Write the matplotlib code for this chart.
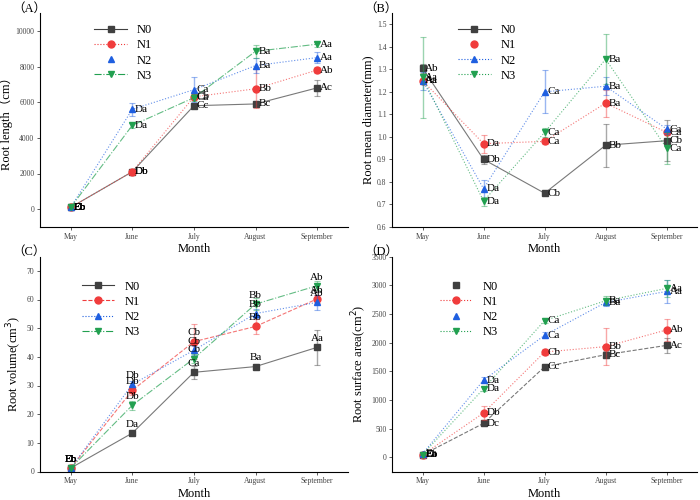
import matplotlib
matplotlib.use('Agg')
import matplotlib.pyplot as plt
from matplotlib.lines import Line2D

plt.rcParams['font.family'] = ['Liberation Serif', 'Noto Sans CJK SC', 'DejaVu Sans']

months = ['May', 'June', 'July', 'August', 'September']
series = ['N0', 'N1', 'N2', 'N3']

# (A) root length (cm)
len_vals = {
    'N0': [100, 2100, 5800, 5900, 6800],
    'N1': [100, 2100, 6300, 6750, 7800],
    'N2': [100, 5600, 6700, 8050, 8500],
    'N3': [100, 4700, 6250, 8850, 9250],
}
len_err = {
    'N0': [50, 100, 150, 150, 450],
    'N1': [50, 100, 150, 1100, 150],
    'N2': [50, 350, 700, 400, 300],
    'N3': [50, 150, 200, 350, 150],
}
len_lab = {
    'N0': ['Eb', 'Db', 'Cc', 'Bc', 'Ac'],
    'N1': ['Eb', 'Db', 'Cb', 'Bb', 'Ab'],
    'N2': ['Eb', 'Da', 'Ca', 'Ba', 'Aa'],
    'N3': ['Eb', 'Da', 'Ca', 'Ba', 'Aa'],
}

# (B) root mean diameter (mm)
dia_vals = {
    'N0': [1.305, 0.90, 0.75, 0.963, 0.983],
    'N1': [1.25, 0.97, 0.98, 1.15, 1.02],
    'N2': [1.25, 0.77, 1.20, 1.225, 1.035],
    'N3': [1.265, 0.715, 1.02, 1.345, 0.95],
}
dia_err = {
    'N0': [0.02, 0.02, 0.01, 0.095, 0.09],
    'N1': [0.01, 0.04, 0.01, 0.06, 0.01],
    'N2': [0.04, 0.04, 0.095, 0.04, 0.02],
    'N3': [0.18, 0.02, 0.02, 0.11, 0.07],
}
dia_lab = {
    'N0': ['Ab', 'Db', 'Cb', 'Bb', 'Cb'],
    'N1': ['Aa', 'Da', 'Ca', 'Ba', 'Ca'],
    'N2': ['Aa', 'Da', 'Ca', 'Ba', 'Ca'],
    'N3': ['Aa', 'Da', 'Ca', 'Ba', 'Ca'],
}

# (C) root volume (cm3)
vol_vals = {
    'N0': [1.2, 13.4, 34.6, 36.6, 43.3],
    'N1': [1.2, 28.3, 45.3, 50.6, 60.2],
    'N2': [1.2, 30.4, 42.3, 55.1, 59.0],
    'N3': [1.2, 23.1, 39.4, 58.4, 64.8],
}
vol_err = {
    'N0': [0.3, 0.8, 2.3, 0.8, 6.0],
    'N1': [0.3, 1.5, 6.0, 2.5, 1.5],
    'N2': [0.3, 1.0, 1.5, 1.5, 2.5],
    'N3': [0.3, 1.5, 1.5, 2.0, 1.5],
}
vol_lab = {
    'N0': ['Eb', 'Da', 'Ca', 'Ba', 'Aa'],
    'N1': ['Eb', 'Db', 'Cb', 'Bb', 'Ab'],
    'N2': ['Eb', 'Db', 'Cb', 'Bb', 'Ab'],
    'N3': ['Eb', 'Db', 'Cb', 'Bb', 'Ab'],
}

# (D) root surface area (cm2)
area_vals = {
    'N0': [40, 590, 1577, 1787, 1950],
    'N1': [40, 771, 1834, 1928, 2220],
    'N2': [58, 1343, 2126, 2699, 2891],
    'N3': [45, 1192, 2383, 2728, 2944],
}
area_err = {
    'N0': [10, 40, 40, 60, 130],
    'N1': [10, 120, 50, 320, 190],
    'N2': [10, 50, 50, 60, 200],
    'N3': [10, 40, 40, 80, 150],
}
area_lab = {
    'N0': ['Eb', 'Dc', 'Cc', 'Bc', 'Ac'],
    'N1': ['Eb', 'Db', 'Cb', 'Bb', 'Ab'],
    'N2': ['Ea', 'Da', 'Ca', 'Ba', 'Aa'],
    'N3': ['Ea', 'Da', 'Ca', 'Ba', 'Aa'],
}

colors = {'N0': '#404040', 'N1': '#f03c3c', 'N2': '#1f5fe0', 'N3': '#22a050'}
markers = {'N0': 's', 'N1': 'o', 'N2': '^', 'N3': 'v'}

fig = plt.figure(figsize=(7, 5), dpi=100)
axA = fig.add_axes([0.057, 0.546, 0.44, 0.428])
axB = fig.add_axes([0.56, 0.546, 0.436, 0.428])
axC = fig.add_axes([0.057, 0.057, 0.44, 0.43])
axD = fig.add_axes([0.56, 0.057, 0.436, 0.43])

x = list(range(len(months)))


def draw(ax, vals, errs, labs, styles, legend_line, ylabel, ylim, yticks, tag,
         above=False, leg_pos=(0.1, 1.0)):
    for s in series:
        ax.errorbar(x, vals[s], yerr=errs[s], fmt='none', ecolor=colors[s],
                    alpha=0.45, elinewidth=1.0, capsize=2, capthick=0.8)
        ax.plot(x, vals[s], linestyle=styles[s], color=colors[s], lw=0.8,
                alpha=0.7)
        ax.plot(x, vals[s], linestyle='none', marker=markers[s],
                color=colors[s], ms=5)
        for xi, v, t in zip(x, vals[s], labs[s]):
            if above:
                ax.annotate(t, (xi, v), textcoords='offset points',
                            xytext=(0, 3), ha='center', va='bottom', fontsize=8)
            else:
                ax.annotate(t, (xi, v), textcoords='offset points',
                            xytext=(2, 0), ha='left', va='center', fontsize=8)
    handles = []
    for s in series:
        ls = styles[s] if legend_line[s] else 'none'
        handles.append(Line2D([], [], color=colors[s], linestyle=ls, lw=0.8,
                              marker=markers[s], ms=5))
    ax.legend(handles, series, loc='upper left', bbox_to_anchor=leg_pos,
              frameon=False, fontsize=9, handlelength=2.6, labelspacing=0.25)
    ax.set_xlim(-0.5, 4.5)
    ax.set_ylim(*ylim)
    ax.set_yticks(yticks)
    ax.set_xticks(x)
    ax.set_xticklabels(months)
    ax.tick_params(labelsize=5.5, colors='#444444', length=2.5, width=0.6,
                   pad=1.5)
    ax.spines['top'].set_visible(False)
    ax.spines['right'].set_visible(False)
    ax.set_xlabel('Month', fontsize=9, labelpad=2)
    ax.set_ylabel(ylabel, fontsize=9, labelpad=2)
    ax.text(-0.09, 1.02, tag, transform=ax.transAxes, fontsize=9,
            ha='left', va='center')


draw(axA, len_vals, len_err, len_lab,
     {'N0': '-', 'N1': ':', 'N2': ':', 'N3': '-.'},
     {'N0': True, 'N1': True, 'N2': False, 'N3': True},
     'Root length（cm）', (-1000, 11000), range(0, 10001, 2000), '（A）',
     leg_pos=(0.14, 1.0))
draw(axB, dia_vals, dia_err, dia_lab,
     {'N0': '-', 'N1': ':', 'N2': ':', 'N3': ':'},
     {'N0': True, 'N1': False, 'N2': True, 'N3': True},
     'Root mean diameter(mm)', (0.6, 1.55),
     [0.6, 0.7, 0.8, 0.9, 1.0, 1.1, 1.2, 1.3, 1.4, 1.5], '（B）',
     leg_pos=(0.18, 1.0))
axB.yaxis.set_major_formatter(plt.FormatStrFormatter('%.1f'))
draw(axC, vol_vals, vol_err, vol_lab,
     {'N0': '-', 'N1': '--', 'N2': ':', 'N3': '-.'},
     {'N0': True, 'N1': True, 'N2': True, 'N3': True},
     'Root volume(cm$^3$)', (0, 75), range(0, 71, 10), '（C）',
     above=True, leg_pos=(0.1, 0.94))
draw(axD, area_vals, area_err, area_lab,
     {'N0': '--', 'N1': ':', 'N2': ':', 'N3': ':'},
     {'N0': False, 'N1': True, 'N2': False, 'N3': True},
     'Root surface area(cm$^2$)', (-250, 3500), range(0, 3501, 500), '（D）',
     leg_pos=(0.12, 0.94))

fig.savefig('out.png', dpi=100)
